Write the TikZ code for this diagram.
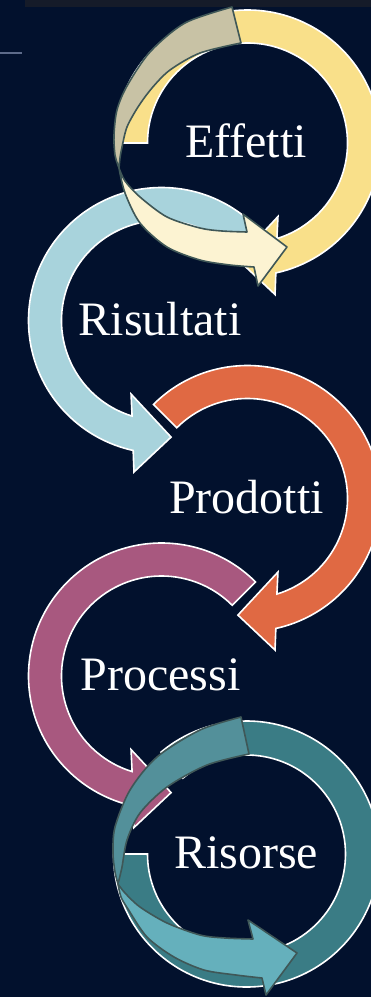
\documentclass[tikz,border=0pt]{standalone}
\usepackage{fontspec}
\setmainfont{Liberation Serif}
\definecolor{bg}{HTML}{02112D}
\definecolor{strip}{HTML}{151B29}
\definecolor{leftline}{HTML}{5D6B8A}
\definecolor{cyellow}{HTML}{F9E08A}
\definecolor{ctan}{HTML}{C8C2A5}
\definecolor{ccream}{HTML}{FCF3D2}
\definecolor{cblue}{HTML}{A8D3DC}
\definecolor{corange}{HTML}{E06943}
\definecolor{cmauve}{HTML}{A8587F}
\definecolor{cdteal}{HTML}{3A7C85}
\definecolor{cmteal}{HTML}{53909A}
\definecolor{clteal}{HTML}{65B0BC}
\definecolor{ovlgray}{HTML}{3F5757}
\begin{document}
\begin{tikzpicture}[x=1pt,y=-1pt,
  ringline/.style={draw=white, line width=1.6pt, line join=miter},
  ovl/.style={draw=ovlgray, line width=1.6pt, line join=round},
  lbl/.style={text=white, font=\fontsize{48}{48}\selectfont, anchor=base, inner sep=0pt}]
\fill[bg] (0,0) rectangle (371,997);
\useasboundingbox (0,0) rectangle (371,997);
\fill[strip] (25,0) rectangle (371,7.3);
\fill[leftline] (0,51.5) rectangle (22,53.8);

% Effetti ring (yellow)
\begin{scope}[shift={(247.5,143)}]
\path[ringline, fill=cyellow] (180:133) arc[start angle=180, end angle=437.7, radius=133]
  -- (439.7:154) -- (454.7:117) -- (427.5:79.6) -- (432.9:100)
  arc[start angle=432.9, end angle=180, radius=100] -- cycle;
\end{scope}
% Risultati ring (light blue)
\begin{scope}[shift={(161.5,320.5)}, xscale=-1]
\path[ringline, fill=cblue] (225:133) arc[start angle=225, end angle=437.7, radius=133]
  -- (439.7:154) -- (454.7:117) -- (427.5:79.6) -- (432.9:100)
  arc[start angle=432.9, end angle=225, radius=100] -- cycle;
\end{scope}
% Prodotti ring (orange)
\begin{scope}[shift={(247.5,498.5)}]
\path[ringline, fill=corange] (225:133) arc[start angle=225, end angle=437.7, radius=133]
  -- (439.7:154) -- (454.7:117) -- (427.5:79.6) -- (432.9:100)
  arc[start angle=432.9, end angle=225, radius=100] -- cycle;
\end{scope}
% Processi ring (mauve)
\begin{scope}[shift={(161.5,676)}, xscale=-1]
\path[ringline, fill=cmauve] (225:133) arc[start angle=225, end angle=437.7, radius=133]
  -- (439.7:154) -- (454.7:117) -- (427.5:79.6) -- (432.9:100)
  arc[start angle=432.9, end angle=225, radius=100] -- cycle;
\end{scope}
% Risorse ring (dark teal)
\begin{scope}[shift={(246.5,854)}]
\path[ringline, fill=cdteal] (180:133) arc[start angle=180, end angle=-130, radius=133]
  -- (-130:99) arc[start angle=-130, end angle=180, radius=99] -- cycle;
\end{scope}

% Effetti overlay arrow
\path[ovl, fill=ctan] plot[smooth] coordinates {(232,7) (185,23) (150,52) (127,86) (117,110) (114,135) (115,155) (119,168)}
  -- plot[smooth] coordinates {(119,168) (120,158) (122,147) (127,127) (138,107) (152,88) (170,70) (200,53) (241,43)} -- cycle;
\path[ovl, fill=ccream] plot[smooth] coordinates {(119,168) (125,193) (140,223) (167,247) (200,260) (230,265) (254,267)}
  -- (258,286) -- (287,247) -- (243,214) -- (247,232)
  -- plot[smooth] coordinates {(247,232) (222,231) (200,228) (167,217) (140,197) (125,181) (119,168)} -- cycle;

% Risorse overlay arrow
\path[ovl, fill=cmteal] plot[smooth] coordinates {(241,717) (200,730) (157,757) (130,790) (115,827) (113,853) (115,872) (118,884)}
  -- plot[smooth] coordinates {(118,884) (122,867) (127,840) (140,813) (167,787) (207,765) (249,754)} -- cycle;
\path[ovl, fill=clteal] plot[smooth] coordinates {(118,884) (121,897) (128,909) (147,937) (174,957) (204,970) (236,975) (262,978)}
  -- (266,995) -- (297,953) -- (248,920) -- (253,939)
  -- plot[smooth] coordinates {(253,939) (225,938) (200,935) (167,923) (140,907) (125,893) (118,884)} -- cycle;

% labels
\node[lbl] (effetti) at (246,157) {Effetti};
\node[lbl] (risultati) at (160,335) {Risultati};
\node[lbl] (prodotti) at (246.5,513) {Prodotti};
\node[lbl] (processi) at (160.5,690) {Processi};
\node[lbl] (risorse) at (246,868) {Risorse};
\end{tikzpicture}
\end{document}
